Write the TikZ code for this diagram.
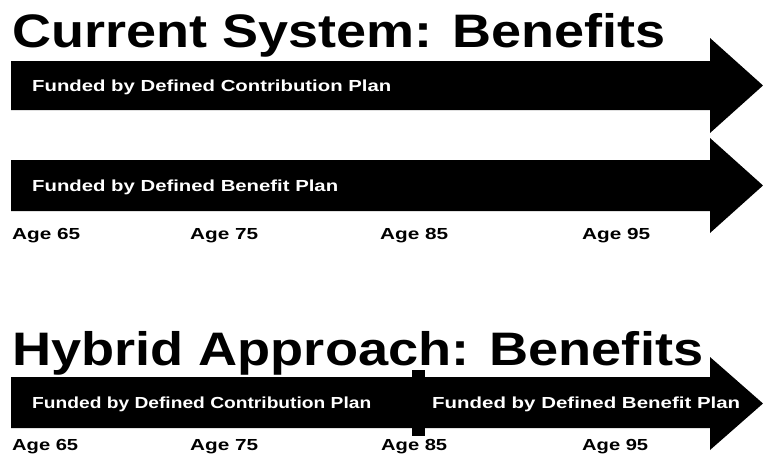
\documentclass[tikz,border=0pt]{standalone}
\usepackage{fontspec}
\setmainfont{Liberation Sans}
\usepackage{graphicx}

% stretch a line of text horizontally to a given width, keeping its height
\newcommand{\fitw}[2]{\resizebox{#1}{\height}{#2}}

\tikzset{
  bigarrow/.style={fill=black, draw=none},
  headline/.style={anchor=base west, inner sep=0pt, font=\fontsize{47}{47}\selectfont\bfseries, text=black},
  fundlabel/.style={anchor=base west, inner sep=0pt, font=\fontsize{16}{16}\selectfont\bfseries, text=white},
  agelabel/.style={anchor=base west, inner sep=0pt, font=\fontsize{16}{16}\selectfont\bfseries, text=black},
  divider/.style={fill=black, draw=none}
}

\begin{document}
\begin{tikzpicture}[x=1pt, y=-1pt]
  \useasboundingbox[fill=white] (0,0) rectangle (763,455);

  % ---------- Current system ----------
  \node[headline] (t1) at (12,47) {\fitw{653pt}{Current System: Benefits}};

  % defined contribution arrow
  \fill[bigarrow] (11,61) -- (710,61) -- (710,38) -- (763,85.5) -- (710,133) -- (710,110) -- (11,110) -- cycle;
  \node[fundlabel] (dc1) at (32,91.5) {\fitw{359pt}{Funded by Defined Contribution Plan}};

  % defined benefit arrow
  \fill[bigarrow] (11,160) -- (710,160) -- (710,138) -- (763,185.5) -- (710,233) -- (710,211) -- (11,211) -- cycle;
  \node[fundlabel] (db1) at (32,191.5) {\fitw{306pt}{Funded by Defined Benefit Plan}};

  % age scale
  \node[agelabel] (a65) at (12,239)  {\fitw{68pt}{Age 65}};
  \node[agelabel] (a75) at (190,239) {\fitw{68pt}{Age 75}};
  \node[agelabel] (a85) at (380,239) {\fitw{68pt}{Age 85}};
  \node[agelabel] (a95) at (582,239) {\fitw{68pt}{Age 95}};

  % ---------- Hybrid approach ----------
  \node[headline] (t2) at (12,365) {\fitw{691pt}{Hybrid Approach: Benefits}};

  \fill[bigarrow] (11,377) -- (710,377) -- (710,357) -- (763,403.5) -- (710,450) -- (710,428) -- (11,428) -- cycle;
  \fill[divider] (412,370) rectangle (425,436);

  \node[fundlabel] (dc2) at (32,408.5)  {\fitw{339pt}{Funded by Defined Contribution Plan}};
  \node[fundlabel] (db2) at (432,408.5) {\fitw{308pt}{Funded by Defined Benefit Plan}};

  \node[agelabel] (b65) at (12,450)  {\fitw{66pt}{Age 65}};
  \node[agelabel] (b75) at (190,450) {\fitw{68pt}{Age 75}};
  \node[agelabel] (b85) at (381,450) {\fitw{66pt}{Age 85}};
  \node[agelabel] (b95) at (582,450) {\fitw{66pt}{Age 95}};
\end{tikzpicture}
\end{document}
